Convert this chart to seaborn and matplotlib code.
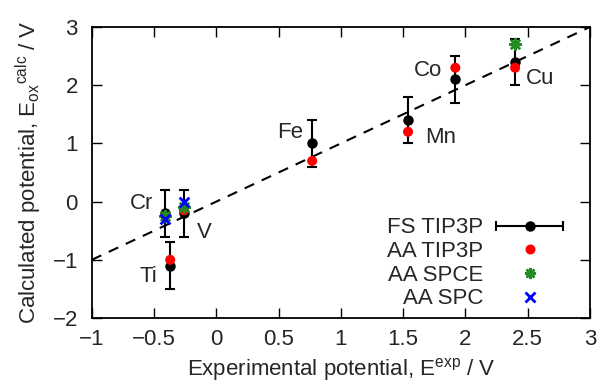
import numpy as np
import pandas as pd
import matplotlib
matplotlib.use("Agg")
import matplotlib.pyplot as plt
import seaborn as sns
from matplotlib.lines import Line2D
from matplotlib.legend_handler import HandlerErrorbar

metals = ["Ti", "V", "Cr", "Fe", "Mn", "Co", "Cu"]
e_exp = [-0.37, -0.26, -0.41, 0.77, 1.54, 1.92, 2.40]
fs_tip3p = [-1.1, -0.2, -0.2, 1.0, 1.4, 2.1, 2.4]
fs_err = [0.4, 0.4, 0.4, 0.4, 0.4, 0.4, 0.4]
aa_tip3p = [-1.0, -0.15, -0.25, 0.7, 1.2, 2.3, 2.3]
spce_metals = ["V", "Cr", "Cu"]
aa_spce = [-0.1, -0.25, 2.7]
spc_metals = ["V", "Cr"]
aa_spc = [0.0, -0.3]
legend_labels = ["FS TIP3P", "AA TIP3P", "AA SPCE", "AA SPC"]
x_ticks = [-1, -0.5, 0, 0.5, 1, 1.5, 2, 2.5, 3]
y_ticks = [-2, -1, 0, 1, 2, 3]

exp_map = dict(zip(metals, e_exp))
df_aa = pd.DataFrame({"x": e_exp, "y": aa_tip3p})
df_spce = pd.DataFrame({"x": [exp_map[m] for m in spce_metals], "y": aa_spce})
df_spc = pd.DataFrame({"x": [exp_map[m] for m in spc_metals], "y": aa_spc})

sns.set_theme(style="ticks")
plt.rcParams["font.family"] = ["Liberation Sans", "DejaVu Sans"]
plt.rcParams["mathtext.fontset"] = "custom"
plt.rcParams["mathtext.rm"] = "Liberation Sans"
plt.rcParams["mathtext.it"] = "Liberation Sans"

fs = 16
RED, GREEN, BLUE = "#ff0000", "#228b22", "#0000ff"
fig = plt.figure(figsize=(6.0, 3.89), dpi=100)
ax = fig.add_axes([0.153, 0.1825, 0.830, 0.748])

# y = x reference line
xl = np.array([-1, 3])
ax.plot(xl, xl, ls=(0, (5, 4)), color="black", lw=1.5, zorder=1)

ax.errorbar(e_exp, fs_tip3p, yerr=fs_err, fmt="o", color="black", ms=6.5,
            elinewidth=1.5, capsize=3.4, capthick=1.5, zorder=2)
sns.scatterplot(data=df_aa, x="x", y="y", ax=ax, color=RED, marker="o",
                s=52, edgecolor="none", zorder=3, legend=False)
sns.scatterplot(data=df_spce, x="x", y="y", ax=ax, color=GREEN, marker=(8, 2, 0),
                s=60, linewidth=1.8, zorder=4, legend=False)
sns.scatterplot(data=df_spc, x="x", y="y", ax=ax, color=BLUE, marker="x",
                s=50, linewidth=2, zorder=5, legend=False)

# legend handles
h_fs = ax.errorbar([np.nan], [np.nan], xerr=[1], fmt="o", color="black", ms=6.5,
                   elinewidth=1.5, capsize=3.4, capthick=1.5)
h_aa = Line2D([], [], ls="none", marker="o", color=RED, ms=7.2, mec="none")
h_spce = Line2D([], [], ls="none", marker=(8, 2, 0), color=GREEN, ms=8, mew=1.8)
h_spc = Line2D([], [], ls="none", marker="x", color=BLUE, ms=7, mew=2)
ax.legend([h_fs, h_aa, h_spce, h_spc], legend_labels,
          loc="lower right", bbox_to_anchor=(0.946, 0.03),
          markerfirst=False, frameon=False, fontsize=fs,
          handlelength=3.0, labelspacing=0.12, borderaxespad=0, borderpad=0,
          handletextpad=0.6,
          handler_map={h_fs: HandlerErrorbar(xerr_size=1.5)})

labels = [("Cr", -0.51, -0.127, "right"), ("V", -0.157, -0.625, "left"),
          ("Ti", -0.478, -1.381, "right"), ("Fe", 0.695, 1.093, "right"),
          ("Co", 1.81, 2.158, "right"), ("Mn", 1.675, 1.007, "left"),
          ("Cu", 2.486, 2.021, "left")]
for t, x, y, ha in labels:
    ax.text(x, y, t, ha=ha, va="baseline", fontsize=fs)

ax.set_xlim(-1, 3)
ax.set_ylim(-2, 3)
ax.set_xticks(x_ticks)
ax.set_xticklabels([f"{v:g}".replace("-", "\u2212") for v in x_ticks])
ax.set_yticks(y_ticks)
ax.set_yticklabels([f"{v:g}".replace("-", "\u2212") for v in y_ticks])
ax.tick_params(direction="in", top=True, right=True, length=7, width=1,
               labelsize=fs, color="black")
ax.tick_params(axis="x", pad=8)
ax.tick_params(axis="y", pad=10)
for s in ax.spines.values():
    s.set_linewidth(1.3)
    s.set_color("black")
ax.set_xlabel("Experimental potential, E$^{\\mathrm{exp}}$ / V", fontsize=fs, labelpad=4)
ax.set_ylabel("Calculated potential, E$_{\\mathrm{ox}}$$^{\\mathrm{calc}}$ / V",
              fontsize=fs, labelpad=6)

fig.savefig("out.png", dpi=100)
